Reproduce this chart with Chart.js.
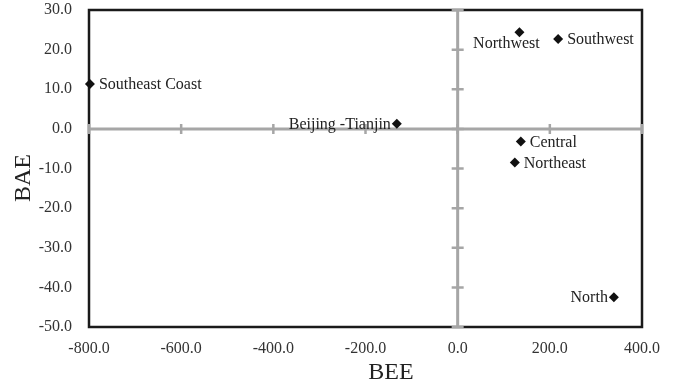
<!DOCTYPE html>
<html><head><meta charset="utf-8">
<script src="https://cdn.jsdelivr.net/npm/chart.js@4.4.0/dist/chart.umd.min.js"></script>
<style>html,body{margin:0;padding:0;background:#fff}</style>
</head><body>
<canvas id="c" width="676" height="386"></canvas>
<script>
const regions=['Southeast Coast','Beijing -Tianjin','Northwest','Southwest','Central','Northeast','North'];
const beeValues=[-798,-132,134,218,137,124,339];
const baeValues=[11.3,1.3,24.4,22.7,-3.2,-8.5,-42.5];
const xTicks=[-800,-600,-400,-200,0,200,400];
const yTicks=[-50,-40,-30,-20,-10,0,10,20,30];

const SERIF='"Liberation Serif","Times New Roman",serif';

// black frame + grey axes crossing at zero
const crossAxes={id:'crossAxes',
  beforeDatasetsDraw(chart){
    const {ctx,chartArea:a,scales:{x,y}}=chart;
    ctx.save();
    ctx.strokeStyle='#1a1a1a';ctx.lineWidth=2.5;
    ctx.strokeRect(a.left,a.top,a.right-a.left,a.bottom-a.top);
    ctx.strokeStyle='#a6a6a6';ctx.lineWidth=3;
    let x0=x.getPixelForValue(0),y0=y.getPixelForValue(0);
    ctx.beginPath();
    ctx.moveTo(a.left,y0);ctx.lineTo(a.right,y0);
    ctx.moveTo(x0,a.top);ctx.lineTo(x0,a.bottom);
    ctx.stroke();
    ctx.lineWidth=2.5;
    ctx.beginPath();
    xTicks.forEach(v=>{let px=x.getPixelForValue(v);ctx.moveTo(px,y0-5);ctx.lineTo(px,y0+5);});
    yTicks.forEach(v=>{let py=y.getPixelForValue(v);ctx.moveTo(x0-6,py);ctx.lineTo(x0+6,py);});
    ctx.stroke();
    ctx.restore();
  }
};

// text next to each marker
const pointLabels={id:'pointLabels',
  afterDatasetsDraw(chart){
    const {ctx}=chart;
    const place={'Beijing -Tianjin':'left','North':'left','Northwest':'below'};
    let meta=chart.getDatasetMeta(0);
    ctx.save();
    ctx.font='16px '+SERIF;ctx.fillStyle='#222';ctx.textBaseline='middle';
    meta.data.forEach((pt,i)=>{
      let name=regions[i],side=place[name]||'right';
      if(side=='left'){ctx.textAlign='right';ctx.fillText(name,pt.x-6,pt.y+1);}
      else if(side=='below'){ctx.textAlign='center';ctx.fillText(name,pt.x-13,pt.y+12);}
      else{ctx.textAlign='left';ctx.fillText(name,pt.x+9,pt.y+1);}
    });
    ctx.restore();
  },
  afterDraw(chart){
    const {ctx}=chart;
    ctx.save();
    ctx.fillStyle='#222';ctx.textAlign='center';ctx.textBaseline='alphabetic';
    ctx.font='24px '+SERIF;
    ctx.fillText('BEE',391,379);
    ctx.translate(30,178);ctx.rotate(-Math.PI/2);
    ctx.fillText('BAE',0,0);
    ctx.restore();
  }
};

new Chart(document.getElementById('c'),{
  type:'scatter',
  data:{datasets:[{
    data:beeValues.map((v,i)=>({x:v,y:baeValues[i]})),
    pointStyle:'rectRot',radius:5,hoverRadius:5,
    backgroundColor:'#111',borderWidth:0,clip:false
  }]},
  options:{
    responsive:false,animation:false,devicePixelRatio:1,
    layout:{padding:{top:10,right:34,left:0,bottom:0}},
    plugins:{legend:{display:false},tooltip:{enabled:false}},
    scales:{
      x:{min:-800,max:400,
        afterBuildTicks:s=>{s.ticks=xTicks.map(v=>({value:v}));},
        afterFit:s=>{s.height=59;s.paddingLeft=0;s.paddingRight=0;},
        grid:{display:false,drawTicks:false},border:{display:false},
        ticks:{padding:12,color:'#333',font:{family:SERIF,size:16},callback:v=>v.toFixed(1),maxRotation:0}},
      y:{min:-50,max:30,
        afterBuildTicks:s=>{s.ticks=yTicks.map(v=>({value:v}));},
        afterFit:s=>{s.width=89;s.paddingTop=0;s.paddingBottom=0;},
        grid:{display:false,drawTicks:false},border:{display:false},
        ticks:{padding:17,color:'#333',font:{family:SERIF,size:16},callback:v=>v.toFixed(1)}}
    }
  },
  plugins:[crossAxes,pointLabels]
});
</script>
</body></html>
